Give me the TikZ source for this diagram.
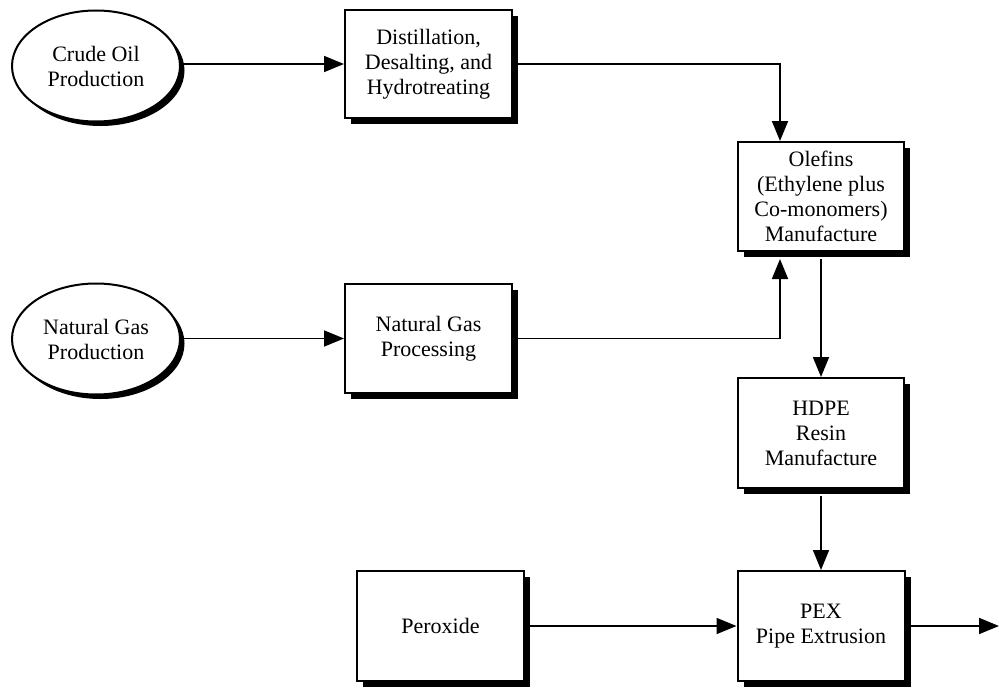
\documentclass[tikz,border=0pt]{standalone}
\usepackage{fontspec}
\setmainfont{Liberation Serif}
\usetikzlibrary{shadows,arrows.meta,shapes.geometric}

\tikzset{
  stagebox/.style={draw=black, line width=2pt, fill=white, align=center,
    inner sep=0pt, font=\fontsize{22}{25}\selectfont,
    drop shadow={shadow xshift=6pt, shadow yshift=-6pt, fill=black, opacity=1}},
  sourceoval/.style={ellipse, draw=black, line width=2pt, fill=white, align=center,
    inner sep=0pt, font=\fontsize{22}{25}\selectfont,
    minimum width=168pt, minimum height=111pt,
    drop shadow={shadow xshift=4.5pt, shadow yshift=-4.5pt, fill=black, opacity=1}},
  flow/.style={draw=black, line width=1.7pt, -{Triangle[length=20pt,width=16pt]}}
}

\begin{document}
\begin{tikzpicture}[x=1pt, y=-1pt]
\useasboundingbox (0,0) rectangle (999,688);

% raw material sources
\node[sourceoval] (crude) at (96,66) {Crude Oil\\Production};
\node[sourceoval] (gas)   at (96,339) {Natural Gas\\Production};

% processing stages
\node[stagebox, minimum width=167pt, minimum height=108pt] (dist) at (428.5,64)
  {Distillation,\\Desalting, and\\Hydrotreating};
\node[stagebox, minimum width=167pt, minimum height=109pt] (ngp) at (428.5,338.5)
  {Natural Gas\\Processing};
\node[stagebox, minimum width=166pt, minimum height=109pt] (olef) at (821,196.5)
  {Olefins\\(Ethylene plus\\Co-monomers)\\Manufacture};
\node[stagebox, minimum width=166pt, minimum height=110pt] (hdpe) at (821,433)
  {HDPE\\Resin\\Manufacture};
\node[stagebox, minimum width=167pt, minimum height=110pt] (pex) at (821,626)
  {PEX\\Pipe Extrusion};
\node[stagebox, minimum width=167pt, minimum height=110pt] (perox) at (440.5,626)
  {Peroxide};

% end points of the feed lines into the olefins unit
\coordinate (oleftop) at ([xshift=-41pt]olef.north);
\coordinate (olefbot) at ([xshift=-41pt,yshift=-7pt]olef.south);
\coordinate (product) at (999,626);

% connectors
\draw[flow] (crude.east |- dist.west) -- (dist.west);
\draw[flow] (gas.east |- ngp.west) -- (ngp.west);
\draw[flow] (dist.east) -| (oleftop);
\draw[flow] (ngp.east) -| (olefbot);
\draw[flow] ([yshift=-7pt]olef.south) -- (hdpe.north);
\draw[flow] ([yshift=-7pt]hdpe.south) -- (pex.north);
\draw[flow] (perox.east) -- (pex.west);
\draw[flow] (pex.east) -- (product);
\end{tikzpicture}
\end{document}
